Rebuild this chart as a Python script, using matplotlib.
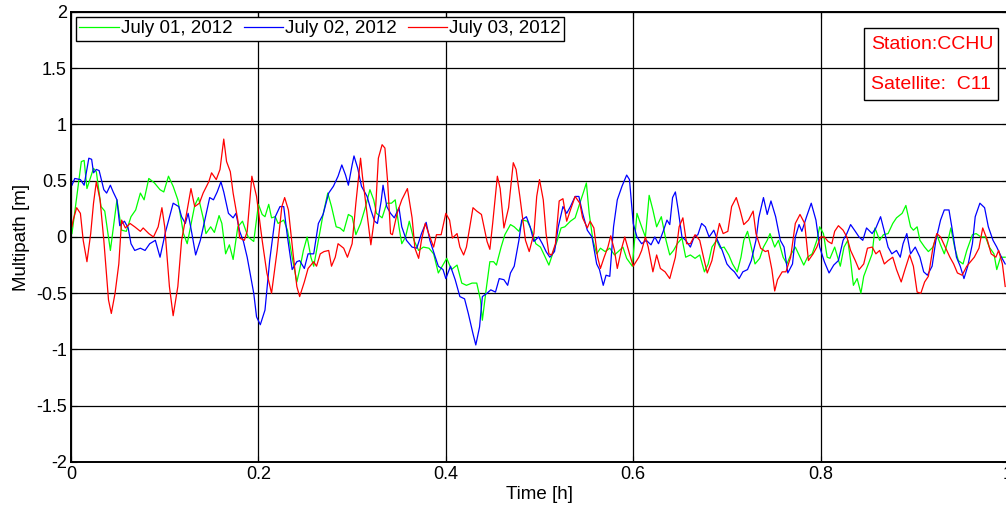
import numpy as np
import matplotlib
matplotlib.use("Agg")
import matplotlib.pyplot as plt
from matplotlib.patches import Rectangle

plt.rcParams['font.family'] = ['Liberation Sans', 'DejaVu Sans']

# July 01, 2012 (green)
t_0701 = [0.001, 0.011, 0.014, 0.017, 0.024, 0.027, 0.032, 0.036, 0.042, 0.049,
          0.054, 0.059, 0.064, 0.069, 0.074, 0.078, 0.083, 0.089, 0.095, 0.099,
          0.104, 0.109, 0.114, 0.120, 0.124, 0.132, 0.136, 0.141, 0.144, 0.149,
          0.153, 0.158, 0.161, 0.165, 0.169, 0.173, 0.178, 0.183, 0.189,
          0.195, 0.200, 0.204, 0.207, 0.211, 0.214, 0.218, 0.221, 0.227, 0.231,
          0.236, 0.241, 0.244, 0.248, 0.252, 0.256, 0.259, 0.264, 0.269, 0.274,
          0.278, 0.283, 0.287, 0.291, 0.296, 0.300, 0.304, 0.309, 0.314, 0.319,
          0.323, 0.326, 0.332, 0.337, 0.342, 0.346, 0.350, 0.353, 0.357, 0.361,
          0.366, 0.371, 0.376, 0.382, 0.387, 0.392,
          0.401, 0.406, 0.412, 0.417, 0.422, 0.428, 0.433, 0.437, 0.439, 0.443,
          0.447, 0.451, 0.454, 0.459, 0.463, 0.469, 0.473, 0.478, 0.482, 0.487,
          0.492, 0.496, 0.501, 0.505, 0.510, 0.514, 0.519, 0.523, 0.527, 0.533,
          0.538, 0.543, 0.547, 0.550, 0.553, 0.557, 0.561, 0.565, 0.570, 0.575,
          0.580, 0.584, 0.589, 0.593,
          0.599, 0.604, 0.609, 0.613, 0.617, 0.621, 0.625, 0.630, 0.635, 0.639,
          0.643, 0.647, 0.652, 0.656, 0.661, 0.666, 0.671, 0.676, 0.680, 0.684,
          0.689, 0.693, 0.697, 0.702, 0.706, 0.711, 0.715, 0.718, 0.722, 0.726,
          0.730, 0.735, 0.739, 0.743, 0.746, 0.751, 0.755, 0.760, 0.764, 0.768,
          0.773, 0.778, 0.782, 0.786, 0.791, 0.796,
          0.799, 0.803, 0.807, 0.810, 0.815, 0.821, 0.825, 0.829, 0.832, 0.835,
          0.839, 0.843, 0.846, 0.851, 0.855, 0.858, 0.863, 0.867, 0.872, 0.877,
          0.881, 0.887, 0.891, 0.896, 0.899, 0.903, 0.906, 0.911, 0.915, 0.920,
          0.924, 0.928, 0.932, 0.936, 0.939, 0.943, 0.947, 0.952, 0.956, 0.962,
          0.966, 0.971, 0.976, 0.980, 0.985, 0.988, 0.992, 0.997]
mp_0701 = [0.03, 0.67, 0.68, 0.43, 0.61, 0.58, 0.27, 0.23, -0.12, 0.33,
           0.06, 0.05, 0.18, 0.24, 0.39, 0.33, 0.52, 0.48, 0.42, 0.40,
           0.54, 0.45, 0.33, 0.03, -0.06, 0.28, 0.35, 0.17, 0.03, 0.09,
           0.04, 0.19, 0.12, -0.15, -0.07, -0.20, 0.09, 0.14, 0.00,
           -0.04, 0.29, 0.20, 0.18, 0.29, 0.17, 0.18, 0.12, 0.15, 0.06,
           -0.18, -0.40, -0.29, -0.12, 0.00, -0.18, -0.26, -0.03, 0.20, 0.39,
           0.27, 0.09, 0.08, 0.05, 0.20, 0.18, 0.02, 0.12, 0.26, 0.42,
           0.33, 0.21, 0.17, 0.30, 0.30, 0.33, 0.09, -0.06, 0.00, 0.14,
           -0.03, -0.12, -0.09, -0.10, -0.15, -0.32,
           -0.19, -0.29, -0.25, -0.41, -0.43, -0.41, -0.41, -0.56, -0.74, -0.47,
           -0.22, -0.22, -0.25, -0.09, 0.02, 0.11, 0.09, 0.05, 0.15, 0.14,
           0.05, -0.06, -0.09, -0.16, -0.25, -0.15, -0.03, 0.08, 0.09, 0.14,
           0.17, 0.30, 0.40, 0.48, 0.21, -0.03, -0.15, -0.10, -0.13, -0.10,
           -0.16, -0.13, -0.09, -0.19,
           -0.26, 0.21, 0.09, 0.00, 0.37, 0.24, 0.09, 0.18, -0.03, -0.16,
           -0.12, -0.06, -0.01, -0.18, -0.16, -0.19, -0.16, -0.31, -0.24, -0.09,
           -0.03, -0.10, -0.09, -0.16, -0.24, -0.31, -0.18, -0.03, 0.05, -0.09,
           -0.24, -0.19, -0.09, -0.03, 0.03, -0.09, -0.03, -0.18, -0.24, -0.16,
           -0.09, -0.18, -0.25, -0.18, -0.15, -0.03,
           0.09, 0.03, -0.18, -0.19, -0.09, -0.26, -0.09, -0.03, -0.21, -0.43,
           -0.37, -0.50, -0.35, -0.24, -0.15, 0.08, -0.03, 0.02, 0.03, 0.12,
           0.17, 0.21, 0.28, 0.09, 0.06, 0.09, -0.03, -0.09, -0.13, -0.09,
           0.02, -0.07, -0.15, -0.03, 0.08, -0.09, -0.21, -0.24, -0.12, 0.02,
           0.03, 0.00, 0.00, -0.09, -0.15, -0.29, -0.18, -0.18]

# July 02, 2012 (blue)
t_0702 = [0.001, 0.004, 0.010, 0.014, 0.019, 0.022, 0.024, 0.027, 0.030, 0.035,
          0.038, 0.042, 0.045, 0.049, 0.052, 0.057, 0.061, 0.064, 0.068, 0.074,
          0.079, 0.084, 0.090, 0.095, 0.101, 0.109, 0.115, 0.118, 0.122, 0.125,
          0.129, 0.133, 0.138, 0.142, 0.148, 0.152, 0.156, 0.160, 0.163, 0.168,
          0.173, 0.176, 0.180, 0.184, 0.188,
          0.195, 0.198, 0.202, 0.207, 0.212, 0.218, 0.223, 0.227, 0.231, 0.236,
          0.241, 0.244, 0.249, 0.253, 0.259, 0.264, 0.269, 0.275, 0.280, 0.285,
          0.289, 0.293, 0.296, 0.300, 0.302, 0.306, 0.310, 0.316, 0.320, 0.324,
          0.327, 0.331, 0.333, 0.337, 0.341, 0.345, 0.350, 0.353, 0.358, 0.364,
          0.369, 0.374, 0.379, 0.383, 0.388, 0.392, 0.397,
          0.400, 0.405, 0.410, 0.415, 0.420, 0.424, 0.429, 0.432, 0.436, 0.439,
          0.444, 0.448, 0.453, 0.457, 0.462, 0.466, 0.469, 0.473, 0.478, 0.481,
          0.486, 0.490, 0.494, 0.499, 0.503, 0.507, 0.511, 0.516, 0.520, 0.525,
          0.529, 0.533, 0.538, 0.542, 0.546, 0.551, 0.556, 0.561, 0.564, 0.568,
          0.571, 0.575, 0.579, 0.583, 0.588, 0.593, 0.596,
          0.600, 0.604, 0.609, 0.614, 0.619, 0.623, 0.627, 0.632, 0.636, 0.639,
          0.642, 0.645, 0.648, 0.652, 0.656, 0.661, 0.665, 0.669, 0.673, 0.677,
          0.681, 0.686, 0.690, 0.695, 0.700, 0.704, 0.708, 0.713, 0.717, 0.722,
          0.726, 0.731, 0.734, 0.739, 0.743, 0.747, 0.752, 0.757, 0.761, 0.765,
          0.770, 0.773, 0.777, 0.780, 0.785, 0.790, 0.795,
          0.799, 0.804, 0.809, 0.814, 0.819, 0.824, 0.828, 0.832, 0.837, 0.841,
          0.845, 0.849, 0.855, 0.859, 0.864, 0.868, 0.872, 0.876, 0.881, 0.885,
          0.888, 0.892, 0.896, 0.901, 0.906, 0.910, 0.914, 0.919, 0.923, 0.928,
          0.932, 0.937, 0.940, 0.945, 0.949, 0.953, 0.957, 0.962, 0.965, 0.970,
          0.975, 0.979, 0.984, 0.988, 0.993, 0.997]
mp_0702 = [0.46, 0.52, 0.51, 0.46, 0.70, 0.69, 0.57, 0.60, 0.59, 0.42,
           0.39, 0.46, 0.40, 0.33, 0.10, 0.14, 0.08, -0.06, -0.12, -0.10,
           -0.12, -0.06, -0.03, -0.18, 0.05, 0.30, 0.27, 0.18, 0.12, 0.21,
           0.03, -0.16, -0.03, 0.12, 0.35, 0.33, 0.40, 0.49, 0.40, 0.21,
           0.17, 0.21, 0.05, -0.04, -0.18,
           -0.50, -0.71, -0.78, -0.65, -0.21, 0.18, 0.27, 0.27, 0.00, -0.29,
           -0.22, -0.21, -0.28, -0.15, -0.15, 0.12, 0.20, 0.39, 0.45, 0.54,
           0.64, 0.55, 0.46, 0.64, 0.72, 0.61, 0.45, 0.36, 0.24, 0.14,
           0.12, 0.32, 0.46, 0.27, 0.21, 0.17, 0.26, 0.09, -0.03, -0.09,
           -0.10, 0.03, 0.13, -0.03, -0.16, -0.26, -0.29,
           -0.37, -0.26, -0.38, -0.53, -0.55, -0.68, -0.86, -0.96, -0.80, -0.53,
           -0.50, -0.47, -0.49, -0.37, -0.38, -0.43, -0.32, -0.26, -0.03, 0.15,
           0.18, 0.09, -0.04, 0.00, -0.06, -0.13, -0.18, -0.13, 0.09, 0.27,
           0.21, 0.27, 0.36, 0.36, 0.21, 0.06, 0.00, -0.24, -0.29, -0.43,
           -0.34, -0.35, 0.09, 0.33, 0.45, 0.55, 0.51,
           0.12, 0.00, -0.06, -0.03, -0.07, 0.00, -0.06, 0.05, 0.15, 0.11,
           0.35, 0.40, 0.24, 0.00, -0.03, -0.09, 0.00, 0.02, 0.12, 0.09,
           0.00, 0.06, -0.03, -0.12, -0.24, -0.28, -0.31, -0.37, -0.31, -0.29,
           -0.21, -0.03, 0.17, 0.35, 0.20, 0.32, 0.18, -0.03, -0.09, -0.32,
           -0.24, 0.00, 0.11, 0.05, 0.18, 0.30, 0.15,
           -0.09, -0.22, -0.32, -0.25, -0.21, -0.03, 0.03, 0.11, 0.05, 0.00,
           -0.03, 0.08, 0.03, 0.08, 0.18, 0.05, -0.09, -0.15, -0.12, -0.18,
           -0.06, 0.03, -0.15, -0.09, -0.18, -0.31, -0.34, -0.26, -0.03, 0.15,
           0.24, 0.24, 0.09, -0.18, -0.26, -0.37, -0.26, -0.06, 0.18, 0.30,
           0.26, 0.09, -0.03, -0.09, -0.18, -0.24]

# July 03, 2012 (red)
t_0703 = [0.001, 0.002, 0.006, 0.010, 0.013, 0.017, 0.021, 0.024, 0.027, 0.031,
          0.035, 0.040, 0.043, 0.047, 0.051, 0.054, 0.058, 0.063, 0.068, 0.074,
          0.077, 0.083, 0.088, 0.093, 0.097, 0.100, 0.105, 0.109, 0.114, 0.118,
          0.124, 0.128, 0.132, 0.137, 0.141, 0.147, 0.150, 0.155, 0.159, 0.163,
          0.166, 0.170, 0.173, 0.178, 0.180, 0.185, 0.188,
          0.193, 0.198, 0.204, 0.209, 0.214, 0.220, 0.225, 0.228, 0.232, 0.237,
          0.241, 0.244, 0.249, 0.253, 0.259, 0.262, 0.266, 0.270, 0.275, 0.278,
          0.282, 0.285, 0.291, 0.295, 0.300, 0.304, 0.309, 0.311, 0.315, 0.320,
          0.325, 0.328, 0.332, 0.335, 0.338, 0.341, 0.343, 0.348, 0.353, 0.359,
          0.364, 0.367, 0.371, 0.374, 0.378, 0.383, 0.387, 0.390, 0.395,
          0.400, 0.404, 0.407, 0.412, 0.415, 0.419, 0.422, 0.429, 0.433, 0.438,
          0.444, 0.447, 0.450, 0.455, 0.458, 0.462, 0.467, 0.472, 0.475, 0.479,
          0.485, 0.489, 0.494, 0.497, 0.500, 0.504, 0.507, 0.510, 0.513, 0.517,
          0.521, 0.525, 0.529, 0.533, 0.538, 0.543, 0.546, 0.551, 0.554, 0.558,
          0.562, 0.565, 0.569, 0.573, 0.576, 0.580, 0.583, 0.588, 0.591, 0.596,
          0.600, 0.606, 0.609, 0.613, 0.616, 0.621, 0.625, 0.629, 0.634, 0.639,
          0.645, 0.649, 0.653, 0.657, 0.661, 0.666, 0.671, 0.675, 0.679, 0.684,
          0.689, 0.692, 0.696, 0.701, 0.705, 0.710, 0.714, 0.718, 0.723, 0.728,
          0.731, 0.736, 0.741, 0.744, 0.748, 0.751, 0.754, 0.759, 0.763, 0.768,
          0.773, 0.778, 0.783, 0.787, 0.792, 0.796,
          0.800, 0.804, 0.808, 0.812, 0.815, 0.819, 0.824, 0.828, 0.832, 0.837,
          0.841, 0.846, 0.850, 0.855, 0.859, 0.863, 0.868, 0.872, 0.877, 0.881,
          0.886, 0.890, 0.895, 0.899, 0.903, 0.907, 0.911, 0.915, 0.920, 0.924,
          0.928, 0.933, 0.938, 0.942, 0.946, 0.951, 0.956, 0.960, 0.964, 0.969,
          0.973, 0.978, 0.982, 0.987, 0.990, 0.994, 0.997]
mp_0703 = [0.09, 0.14, 0.26, 0.21, -0.03, -0.22, 0.03, 0.30, 0.49, 0.33,
           -0.03, -0.56, -0.68, -0.50, -0.24, 0.15, 0.08, 0.12, 0.09, 0.05,
           0.08, 0.03, 0.00, 0.09, 0.26, 0.09, -0.44, -0.70, -0.44, -0.03,
           0.24, 0.43, 0.27, 0.30, 0.39, 0.49, 0.57, 0.51, 0.60, 0.87,
           0.67, 0.58, 0.39, 0.15, -0.01, -0.03, 0.05,
           0.54, 0.36, -0.03, -0.32, -0.50, -0.12, 0.27, 0.35, 0.24, -0.15,
           -0.44, -0.53, -0.40, -0.28, -0.22, -0.26, -0.15, -0.13, -0.12, -0.26,
           -0.18, -0.06, -0.10, -0.18, -0.06, 0.30, 0.70, 0.54, 0.27, -0.07,
           0.24, 0.70, 0.82, 0.79, 0.48, 0.03, 0.02, 0.21, 0.33, 0.43,
           0.17, -0.10, -0.19, -0.03, 0.12, 0.00, -0.09, 0.02, 0.02,
           0.21, 0.15, -0.01, 0.03, -0.09, -0.16, -0.09, 0.26, 0.23, 0.20,
           -0.04, -0.11, 0.12, 0.54, 0.43, 0.08, 0.26, 0.66, 0.60, 0.36,
           -0.03, -0.13, 0.03, 0.36, 0.51, 0.33, 0.03, -0.15, -0.16, -0.06,
           0.32, 0.34, 0.14, 0.24, 0.36, 0.30, 0.17, 0.08, 0.14, 0.08,
           -0.18, -0.28, -0.18, -0.09, 0.01, -0.12, -0.28, -0.09, 0.00, -0.15,
           -0.26, -0.18, -0.12, 0.00, -0.09, -0.31, -0.16, -0.28, -0.31, -0.37,
           -0.18, 0.09, 0.17, -0.06, -0.06, 0.02, -0.03, -0.18, -0.32, -0.21,
           0.00, 0.12, 0.03, 0.05, 0.27, 0.35, 0.24, 0.11, 0.15, 0.23,
           0.03, -0.10, -0.13, -0.12, -0.29, -0.48, -0.38, -0.31, -0.31, -0.18,
           0.12, 0.20, 0.12, -0.21, -0.15, -0.09,
           0.00, 0.00, -0.04, -0.06, 0.05, 0.10, 0.06, 0.00, -0.12, -0.21,
           -0.29, -0.24, -0.10, -0.09, -0.15, -0.12, -0.24, -0.21, -0.18, -0.29,
           -0.40, -0.29, -0.16, -0.26, -0.49, -0.50, -0.40, -0.35, -0.09, 0.03,
           0.00, -0.09, -0.18, -0.24, -0.32, -0.34, -0.26, -0.22, -0.18, -0.10,
           0.08, -0.03, -0.15, -0.18, -0.12, -0.24, -0.44]

labels = ['July 01, 2012', 'July 02, 2012', 'July 03, 2012']
colors = ['#00ff00', '#0000ff', '#ff0000']
xticks = [0, 0.2, 0.4, 0.6, 0.8, 1]
yticks = [-2, -1.5, -1, -0.5, 0, 0.5, 1, 1.5, 2]

fig = plt.figure(figsize=(10.06, 5.12), dpi=100)
ax = fig.add_axes([0.0706, 0.0977, 0.9314, 0.879])

series = [(t_0701, mp_0701), (t_0702, mp_0702), (t_0703, mp_0703)]
for (t, mp), lab, c in zip(series, labels, colors):
    ax.plot(t, mp, color=c, lw=0.9, label=lab)

ax.set_xlim(0, 1)
ax.set_ylim(-2, 2)
ax.set_xticks(xticks)
ax.set_xticklabels(['0', '0.2', '0.4', '0.6', '0.8', '1'])
ax.set_yticks(yticks)
ax.set_yticklabels(['-2', '-1.5', '-1', '-0.5', '0', '0.5', '1', '1.5', '2'])
ax.grid(True, color='black', lw=0.9, ls='-')
ax.set_axisbelow(True)
ax.tick_params(direction='in', length=4, labelsize=13, top=True, right=True, pad=3)
for s in ax.spines.values():
    s.set_linewidth(1.4)

ax.set_xlabel('Time [h]', fontsize=13.5, labelpad=2)
ax.set_ylabel('Multipath [m]', fontsize=13.5, labelpad=4)

leg = ax.legend(loc='upper left', ncol=3, fontsize=13.5, frameon=True,
                fancybox=False, edgecolor='black', framealpha=1,
                borderaxespad=0.25, borderpad=0.2, handlelength=2.1,
                handletextpad=0.1, columnspacing=0.6)
leg.get_frame().set_linewidth(1.0)

ax.add_patch(Rectangle((0.846, 0.804), 0.143, 0.160, transform=ax.transAxes,
                       fill=False, edgecolor='black', lw=1.0, zorder=5))
ax.text(0.854, 0.927, 'Station:CCHU', transform=ax.transAxes, color='red',
        fontsize=14, va='center', ha='left', zorder=6)
ax.text(0.854, 0.838, 'Satellite:  C11', transform=ax.transAxes, color='red',
        fontsize=14, va='center', ha='left', zorder=6)

fig.savefig('out.png', dpi=100)
